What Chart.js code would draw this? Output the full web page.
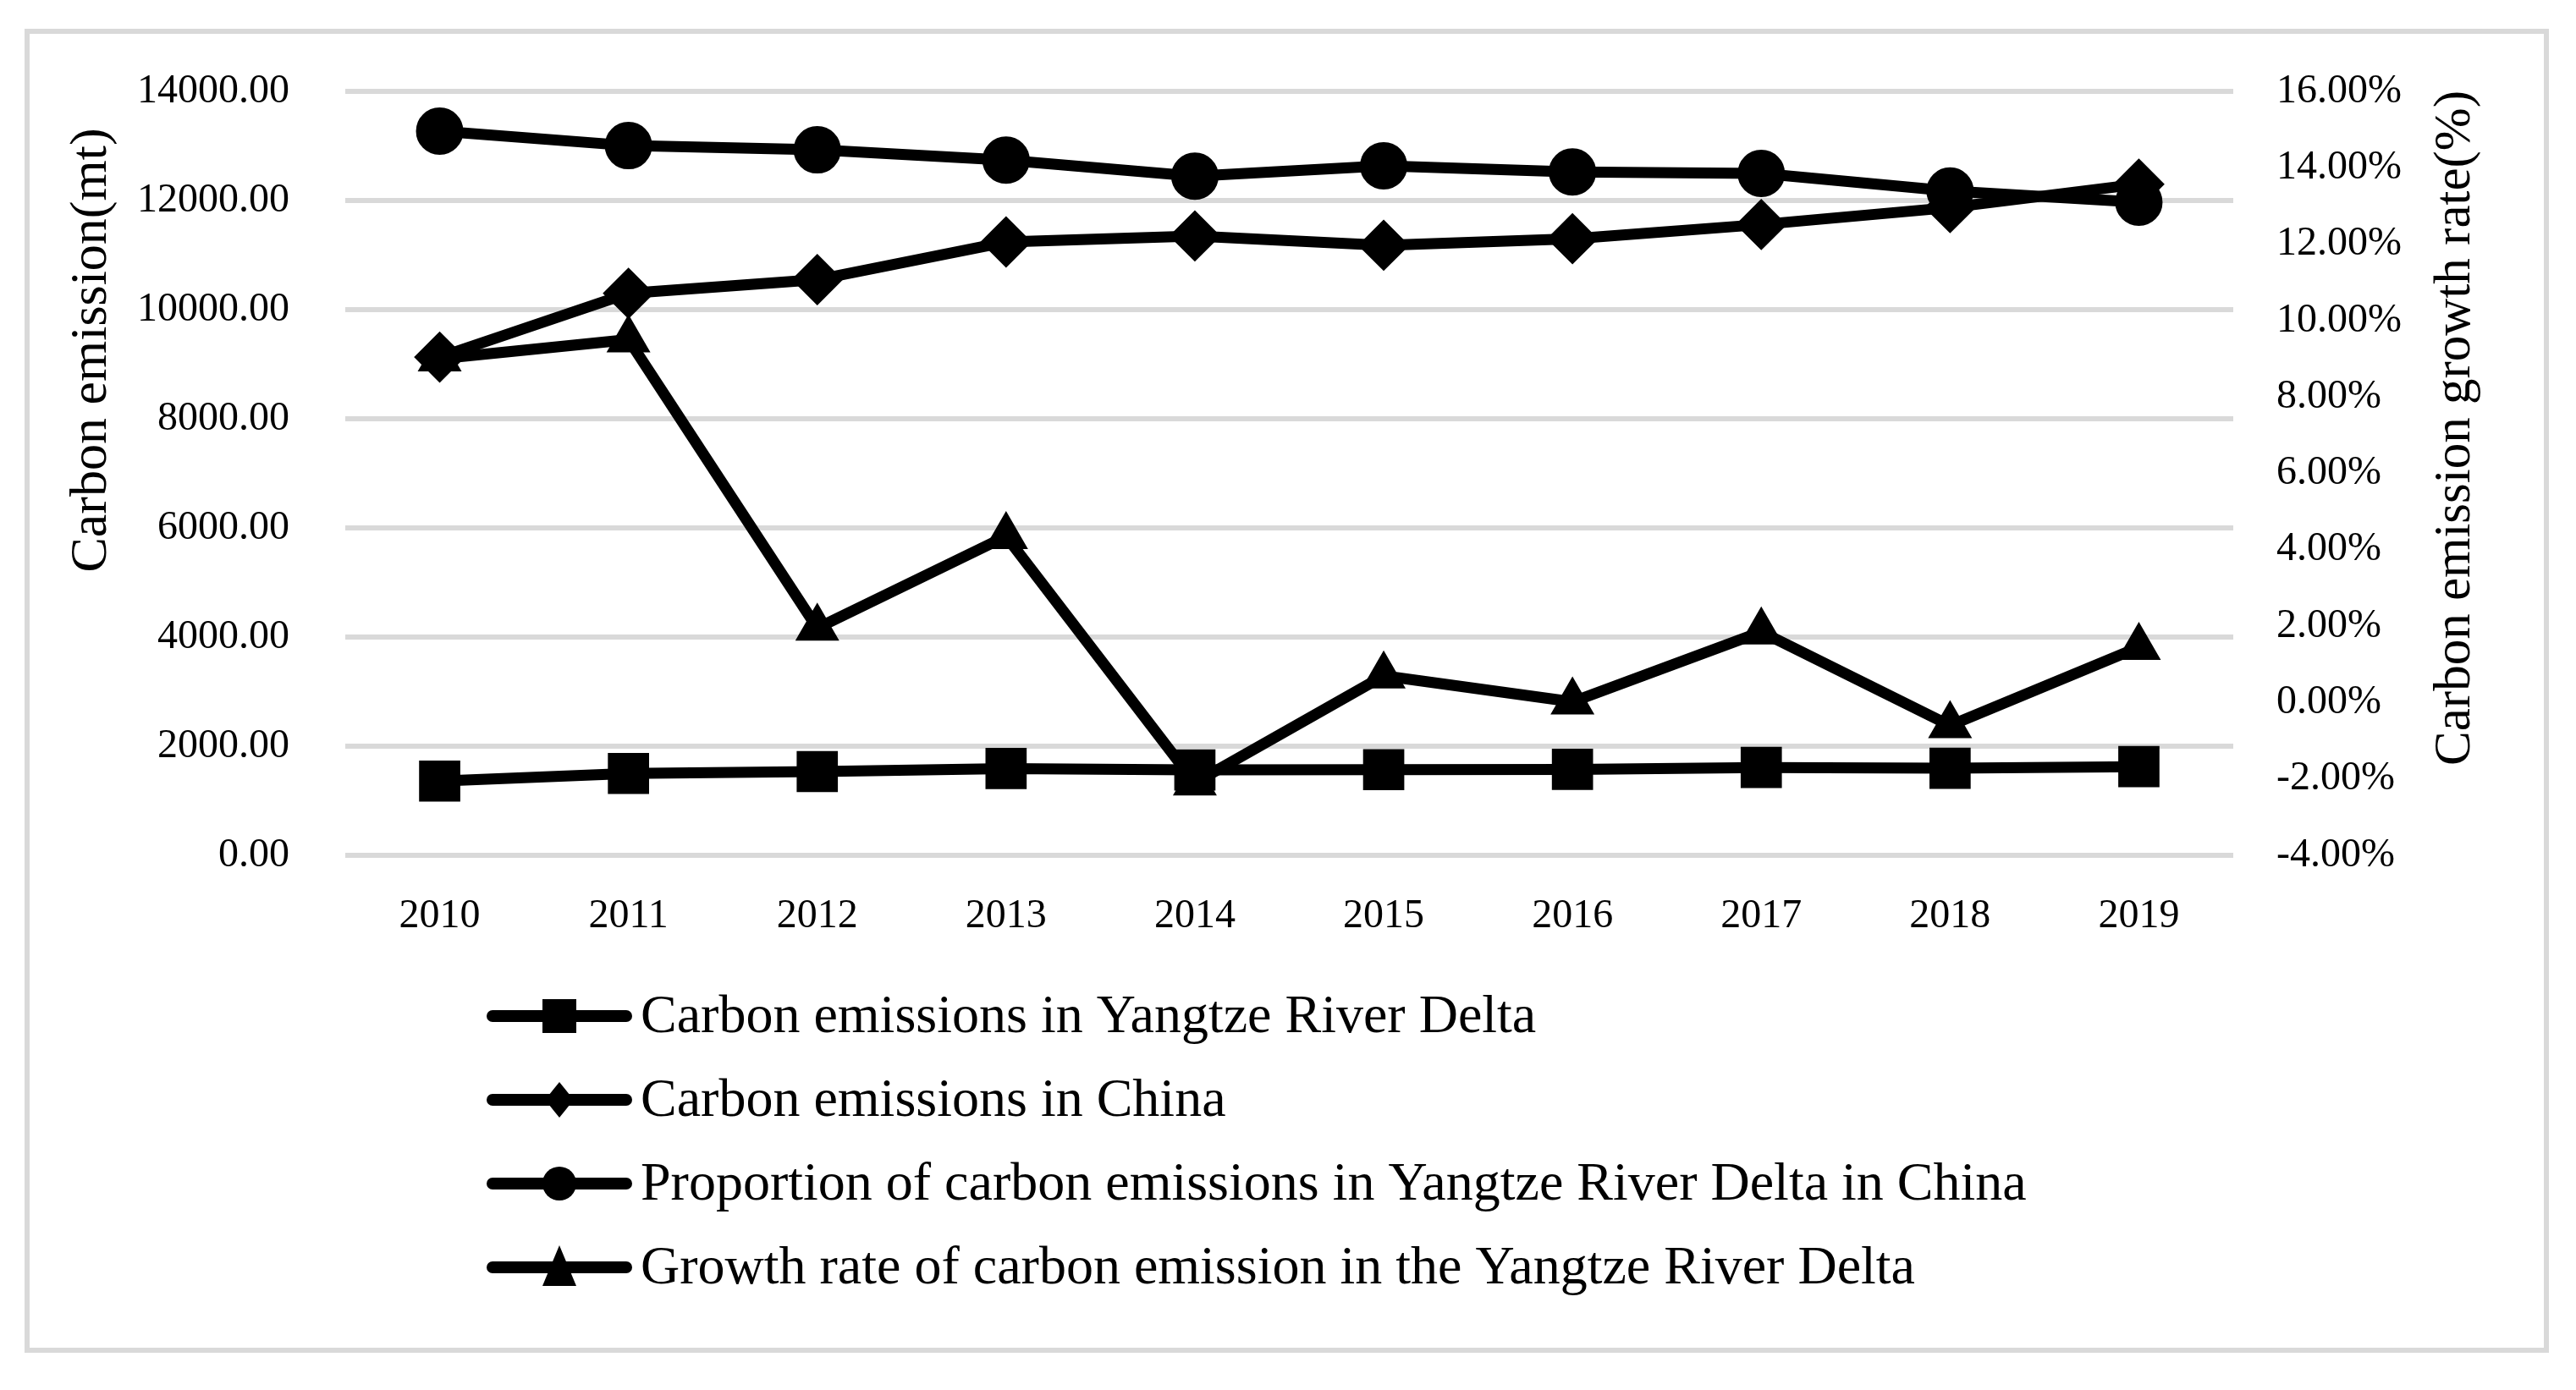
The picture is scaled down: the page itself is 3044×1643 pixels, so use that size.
<!DOCTYPE html>
<html>
<head>
<meta charset="utf-8">
<script src="https://cdn.jsdelivr.net/npm/chart.js@4.4.1/dist/chart.umd.min.js"></script>
<style>
  html, body { margin: 0; padding: 0; background: #fff; }
  #wrap { width: 3044px; height: 1643px; }
</style>
</head>
<body>
<div id="wrap"><canvas id="chart" width="3044" height="1643"></canvas></div>
<script>
// Datos
const years = ['2010', '2011', '2012', '2013', '2014', '2015', '2016', '2017', '2018', '2019'];
const yrdEmissions = [1360, 1500, 1535, 1590, 1565, 1570, 1575, 1610, 1595, 1625];          // mt
const chinaEmissions = [9130, 10300, 10550, 11240, 11350, 11180, 11300, 11560, 11870, 12300]; // mt
const yrdShare = [14.96, 14.58, 14.47, 14.20, 13.78, 14.05, 13.89, 13.85, 13.39, 13.10];      // %
const yrdGrowth = [9.0, 9.5, 1.95, 4.35, -2.1, 0.7, 0.02, 1.85, -0.6, 1.45];                  // %

const seriesNames = [
    'Carbon emissions in Yangtze River Delta',
    'Carbon emissions in China',
    'Proportion of carbon emissions in Yangtze River Delta in China',
    'Growth rate of carbon emission in the Yangtze River Delta'
];
const leftTitle = 'Carbon emission(mt)';
const rightTitle = 'Carbon emission growth rate(%)';

const FONT = '"Liberation Serif", "Times New Roman", serif';

// Marco, títulos de ejes y leyenda
const framePlugin = {
    id: 'frame',
    beforeDraw(chart) {
        const ctx = chart.ctx;
        ctx.save();
        ctx.fillStyle = '#fff';
        ctx.fillRect(0, 0, chart.width, chart.height);
        ctx.strokeStyle = '#d9d9d9';
        ctx.lineWidth = 6;
        ctx.strokeRect(32, 37, 2977, 1559);
        ctx.restore();
    },
    afterDraw(chart) {
        const ctx = chart.ctx;
        ctx.save();
        ctx.fillStyle = '#000';
        ctx.textAlign = 'center';
        ctx.textBaseline = 'middle';
        [[leftTitle, 109, 414, 62], [rightTitle, 2902, 506, 61]].forEach(([t, x, y, size]) => {
            ctx.save();
            ctx.font = size + 'px ' + FONT;
            ctx.translate(x, y);
            ctx.rotate(-Math.PI / 2);
            ctx.fillText(t, 0, 0);
            ctx.restore();
        });

        // leyenda
        chart.data.datasets.forEach((ds, i) => {
            const y = 1201 + i * 99;
            ctx.strokeStyle = '#000';
            ctx.lineWidth = 14;
            ctx.lineCap = 'round';
            ctx.beginPath();
            ctx.moveTo(582, y);
            ctx.lineTo(740, y);
            ctx.stroke();
            drawMarker(ctx, ds.pointStyle, 661, y);
            ctx.fillStyle = '#000';
            ctx.font = '64px ' + FONT;
            ctx.textAlign = 'left';
            ctx.textBaseline = 'middle';
            ctx.fillText(ds.label, 757, y + 2);
        });
        ctx.restore();
    }
};

function drawMarker(ctx, style, x, y) {
    ctx.fillStyle = '#000';
    ctx.beginPath();
    if (style === 'rect') {
        ctx.rect(x - 20, y - 20, 40, 40);
    } else if (style === 'rectRot') {
        ctx.moveTo(x, y - 21);
        ctx.lineTo(x + 17, y);
        ctx.lineTo(x, y + 21);
        ctx.lineTo(x - 17, y);
        ctx.closePath();
    } else if (style === 'circle') {
        ctx.arc(x, y, 20, 0, Math.PI * 2);
    } else {
        ctx.moveTo(x, y - 26);
        ctx.lineTo(x + 20, y + 22);
        ctx.lineTo(x - 20, y + 22);
        ctx.closePath();
    }
    ctx.fill();
}

function lineSet(label, data, axis, style, radius) {
    return {
        label: label,
        data: data,
        yAxisID: axis,
        borderColor: '#000',
        backgroundColor: '#000',
        borderWidth: 13,
        pointStyle: style,
        pointRadius: radius,
        pointBorderWidth: 2,
        pointBackgroundColor: '#000',
        pointBorderColor: '#000',
        tension: 0,
        clip: false
    };
}

const config = {
    type: 'line',
    data: {
        labels: years,
        datasets: [
            lineSet(seriesNames[0], yrdEmissions, 'y', 'rect', 33),
            lineSet(seriesNames[1], chinaEmissions, 'y', 'rectRot', 29),
            lineSet(seriesNames[2], yrdShare, 'y1', 'circle', 27),
            lineSet(seriesNames[3], yrdGrowth, 'y1', 'triangle', 28)
        ]
    },
    options: {
        responsive: false,
        devicePixelRatio: 1,
        animation: false,
        layout: { padding: { left: 0, right: 0, top: 108, bottom: 0 } },
        plugins: { legend: { display: false }, tooltip: { enabled: false } },
        scales: {
            x: {
                offset: true,
                grid: { display: false, drawTicks: false, offset: true },
                border: { display: false },
                ticks: { color: '#000', font: { family: FONT, size: 48 }, padding: 44 },
                afterFit(s) { s.height = 632; }
            },
            y: {
                position: 'left',
                min: 0,
                max: 14000,
                grid: { color: '#d9d9d9', lineWidth: 6, drawTicks: false },
                border: { display: false },
                ticks: {
                    stepSize: 2000,
                    color: '#000',
                    font: { family: FONT, size: 48 },
                    padding: 66,
                    callback: v => v.toFixed(2)
                },
                afterFit(s) { s.width = 408; }
            },
            y1: {
                position: 'right',
                min: -4,
                max: 16,
                grid: { display: false, drawTicks: false },
                border: { display: false },
                ticks: {
                    stepSize: 2,
                    color: '#000',
                    font: { family: FONT, size: 48 },
                    padding: 51,
                    callback: v => v.toFixed(2) + '%'
                },
                afterFit(s) { s.width = 405; }
            }
        }
    },
    plugins: [framePlugin]
};

const chart = new Chart(document.getElementById('chart'), config);
</script>
</body>
</html>
